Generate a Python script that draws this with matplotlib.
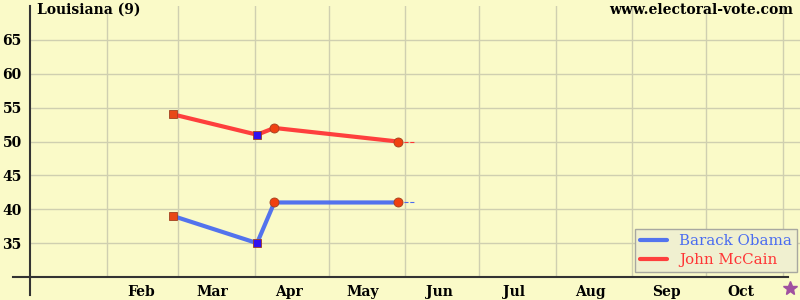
import matplotlib
matplotlib.use("Agg")
import matplotlib.pyplot as plt
import matplotlib.dates as mdates
from datetime import date

# poll data
poll_dates = [date(2008, 2, 28), date(2008, 4, 2), date(2008, 4, 9), date(2008, 5, 29)]
obama = [39, 35, 41, 41]
mccain = [54, 51, 52, 50]
marker_shapes = ['s', 's', 'o', 'o']
marker_colors = ['#e84818', '#3010f0', '#f04010', '#f04010']
trail_end = date(2008, 6, 5)

month_starts = [date(2008, m, 1) for m in range(1, 12)]
month_labels = ['Feb', 'Mar', 'Apr', 'May', 'Jun', 'Jul', 'Aug', 'Sep', 'Oct']
month_mids = [date(2008, m, 15) for m in range(2, 11)]
y_ticks = [35, 40, 45, 50, 55, 60, 65]
election_day = date(2008, 11, 4)

BG = '#fafac8'
GRID = '#cfcfb0'
BLUE = '#4a6cf0'
RED = '#ff3535'
FONT = 'DejaVu Serif'

fig = plt.figure(figsize=(8, 3), dpi=100, facecolor=BG)
ax = fig.add_axes([30/800, 23/300, 770/800, 271/300])
ax.set_facecolor(BG)
ax.set_xlim(date(2008, 1, 1), date(2008, 11, 8))
ax.set_ylim(30, 70)

# grid
for d in month_starts[1:]:
    ax.axvline(d, color=GRID, lw=1, zorder=0)
for y in y_ticks:
    ax.axhline(y, color=GRID, lw=1, zorder=0)

for s in ax.spines.values():
    s.set_visible(False)
ax.plot([-0.022, 0.985], [0, 0], transform=ax.transAxes, color='#333333', lw=1.5, clip_on=False)
ax.plot([0, 0], [-0.065, 1.0], transform=ax.transAxes, color='#333333', lw=1.5, clip_on=False)

ax.set_yticks(y_ticks)
ax.set_yticklabels([str(v) for v in y_ticks], fontsize=10, fontweight='bold', family=FONT)
ax.set_xticks([mdates.date2num(d) for d in month_mids])
ax.set_xticklabels(month_labels, fontsize=10, fontweight='bold', family=FONT)
ax.tick_params(length=0, pad=6)

# lines
ax.plot(poll_dates, obama, color=BLUE, lw=3, alpha=0.95, label='Barack Obama', zorder=3, solid_capstyle='round')
ax.plot(poll_dates, mccain, color=RED, lw=3, alpha=0.95, label='John McCain', zorder=3, solid_capstyle='round')
ax.plot([poll_dates[-1], trail_end], [obama[-1], obama[-1]], color=BLUE, lw=0.8, ls='--', zorder=2)
ax.plot([poll_dates[-1], trail_end], [mccain[-1], mccain[-1]], color=RED, lw=0.8, ls='--', zorder=2)

for d, ob, mc, m, c in zip(poll_dates, obama, mccain, marker_shapes, marker_colors):
    size = 5.5 if m == 's' else 6.5
    ax.plot([d], [ob], marker=m, ms=size, color=c, mec='#a04020', mew=0.6, zorder=4)
    ax.plot([d], [mc], marker=m, ms=size, color=c, mec='#a04020', mew=0.6, zorder=4)

# election day star
ax.plot([election_day], [28.4], marker='*', ms=10, color='#a050a0', clip_on=False, zorder=5)

fig.text(37/800, 1 - 10/300, 'Louisiana (9)', fontsize=10, fontweight='bold', family=FONT,
         ha='left', va='center')
fig.text(793/800, 1 - 10/300, 'www.electoral-vote.com', fontsize=10, fontweight='bold', family=FONT,
         ha='right', va='center')

leg = ax.legend(loc='lower right', bbox_to_anchor=(0.996, 0.018), borderaxespad=0,
                prop={'family': FONT, 'size': 10.8}, frameon=True, fancybox=False,
                facecolor='#f0f0d0', edgecolor='#a8a8a0', handlelength=1.8,
                borderpad=0.35, labelspacing=0.3, framealpha=1)
for t, c in zip(leg.get_texts(), [BLUE, RED]):
    t.set_color(c)

fig.savefig('out.png', dpi=100, facecolor=BG)
